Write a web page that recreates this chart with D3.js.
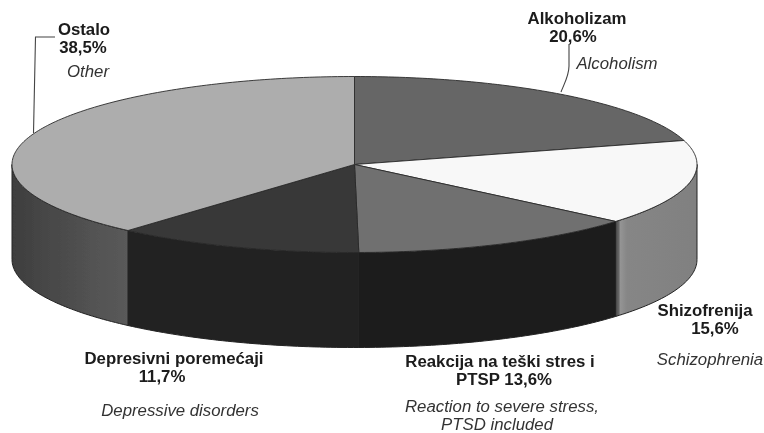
<!DOCTYPE html>
<html>
<head>
<meta charset="utf-8">
<script src="https://cdn.jsdelivr.net/npm/d3@7"></script>
<style>
  html, body { margin: 0; padding: 0; background: #fff; }
  svg { display: block; }
  text { font-family: "Liberation Sans", Arial, sans-serif; fill: #1a1a1a; }
  .name { font-weight: bold; font-size: 16.8px; }
  .en { font-style: italic; font-size: 16.8px; fill: #333; }
</style>
</head>
<body>
<script>
var categories = ["Alkoholizam", "Shizofrenija", "Reakcija na teški stres i PTSP", "Depresivni poremećaji", "Ostalo"];
var values = [20.6, 15.6, 13.6, 11.7, 38.5];
var topColors = ["#666666", "#f8f8f8", "#707070", "#383838", "#adadad"];
var wallColors = ["#555555", "url(#wallSchizo)", "#1b1b1b", "#242424", "url(#wallOther)"];

var width = 764, height = 433;
var cx = 354.5, cy = 164.5, rx = 342.5, ry = 88, depth = 95;

var svg = d3.select("body").append("svg")
    .attr("width", width)
    .attr("height", height);

var defs = svg.append("defs");
defs.append("filter").attr("id", "soft")
  .append("feGaussianBlur").attr("stdDeviation", 0.45);

function gradient(id, stops) {
  var g = defs.append("linearGradient").attr("id", id);
  stops.forEach(function(s) {
    g.append("stop").attr("offset", s[0]).attr("stop-color", s[1]);
  });
}
gradient("wallOther", [[0, "#3e3e3e"], [0.6, "#505050"], [1, "#5a5a5a"]]);
gradient("wallSchizo", [[0, "#5a5a5a"], [0.03, "#5a5a5a"], [0.06, "#949494"], [0.14, "#868686"], [1, "#808080"]]);

var chart = svg.append("g").attr("filter", "url(#soft)");

var pie = d3.pie().sort(null).value(function(d) { return d; });
var slices = pie(values);

// unit circle to the tilted ellipse
var px = d3.scaleLinear().domain([-1, 1]).range([cx - rx, cx + rx]);
var py = d3.scaleLinear().domain([-1, 1]).range([cy - ry, cy + ry]);

function rim(a, drop) {
  return [px(Math.sin(a)), py(-Math.cos(a)) + drop];
}
function arcPoints(a0, a1, drop) {
  var n = Math.max(2, Math.ceil((a1 - a0) * 60));
  return d3.range(n + 1).map(function(i) { return rim(a0 + (a1 - a0) * i / n, drop); });
}
var line = d3.line();

// walls, only the front half of the cake shows
slices.forEach(function(s, i) {
  var a0 = Math.max(s.startAngle, Math.PI / 2),
      a1 = Math.min(s.endAngle, Math.PI * 1.5);
  if (a1 <= a0) return;
  var pts = arcPoints(a0, a1, 0).concat(arcPoints(a0, a1, depth).reverse());
  chart.append("path")
      .attr("d", line(pts) + "Z")
      .attr("fill", wallColors[i])
      .attr("stroke", "#222")
      .attr("stroke-width", 1);
});

// top face
slices.forEach(function(s, i) {
  var pts = [[cx, cy]].concat(arcPoints(s.startAngle, s.endAngle, 0));
  chart.append("path")
      .attr("d", line(pts) + "Z")
      .attr("fill", topColors[i])
      .attr("stroke", "#2a2a2a")
      .attr("stroke-width", 0.9)
      .attr("stroke-linejoin", "round");
});

// leader lines
var leader = chart.append("g").attr("fill", "none").attr("stroke", "#444").attr("stroke-width", 1.1);
leader.append("path").attr("d", "M33.5,133L35.5,37H55");
leader.append("path").attr("d", "M569,44V66C569,76 564,84 561,92");

// lines = [[x, text], ...]
var labels = chart.append("g");
function label(cls, y, lh, lines) {
  var t = labels.append("text")
      .attr("class", cls)
      .attr("y", y)
      .attr("text-anchor", "middle");
  lines.forEach(function(l, i) {
    t.append("tspan").attr("x", l[0]).attr("dy", i ? lh : 0).text(l[1]);
  });
}

label("name", 24, 18, [[577, "Alkoholizam"], [573, "20,6%"]]);
label("en", 69, 0, [[617, "Alcoholism"]]);

label("name", 35, 18, [[84, "Ostalo"], [83, "38,5%"]]);
label("en", 77, 0, [[88, "Other"]]);

label("name", 315.5, 18, [[705, "Shizofrenija"], [715, "15,6%"]]);
label("en", 365, 0, [[710, "Schizophrenia"]]);

label("name", 366.5, 18, [[500, "Reakcija na teški stres i"], [504, "PTSP 13,6%"]]);
label("en", 412, 18, [[502, "Reaction to severe stress,"], [497, "PTSD included"]]);

label("name", 364, 18, [[174, "Depresivni poremećaji"], [162, "11,7%"]]);
label("en", 416, 0, [[180, "Depressive disorders"]]);
</script>
</body>
</html>
